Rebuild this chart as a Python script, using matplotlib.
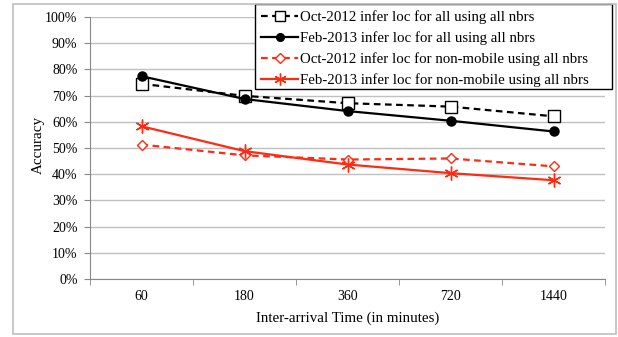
import matplotlib
matplotlib.use("Agg")
import matplotlib.pyplot as plt
from matplotlib.patches import Rectangle

# data
categories = ["60", "180", "360", "720", "1440"]
oct_all = [74.5, 69.9, 67.1, 65.8, 62.1]
feb_all = [77.4, 68.7, 64.1, 60.4, 56.3]
oct_nonmob = [51.3, 47.2, 45.6, 46.0, 43.0]
feb_nonmob = [58.3, 48.8, 43.7, 40.4, 37.7]

W, H = 618, 337
red = "#ff2a12"
plt.rcParams["font.family"] = ["Liberation Serif", "DejaVu Serif"]

fig = plt.figure(figsize=(W / 100, H / 100), dpi=100)
# outer chart frame
fig.patches.append(Rectangle((13 / W, 3 / H), 603 / W, 330 / H, transform=fig.transFigure,
                             fill=False, edgecolor="#bfbfbf", linewidth=1.2))

ax = fig.add_axes([90 / W, (H - 279) / H, 515 / W, 262 / H])
x = list(range(len(categories)))

ax.plot(x, oct_all, color="black", linestyle=(0, (3, 2)), linewidth=1.6, marker="s",
        markersize=8, markerfacecolor="white", markeredgecolor="black", markeredgewidth=1.0,
        label="Oct-2012 infer loc for all using all nbrs")
ax.plot(x, feb_all, color="black", linewidth=1.6, marker="o", markersize=6.5,
        label="Feb-2013 infer loc for all using all nbrs")
ax.plot(x, oct_nonmob, color=red, linestyle=(0, (3, 2)), linewidth=1.6, marker="D",
        markersize=5.5, markerfacecolor="white", markeredgecolor=red, markeredgewidth=1.0,
        label="Oct-2012 infer loc for non-mobile using all nbrs")
ax.plot(x, feb_nonmob, color=red, linewidth=1.6, marker=(6, 2, 0), markersize=10,
        markeredgewidth=1.0, label="Feb-2013 infer loc for non-mobile using all nbrs")

ax.set_xlim(-0.5, len(categories) - 0.5)
ax.set_ylim(0, 100)
ax.set_yticks(range(0, 101, 10))
ax.set_yticklabels([f"{v}%" for v in range(0, 101, 10)])
ax.set_xticks(x)
ax.set_xticklabels(categories)
ax.set_xticks([i - 0.5 for i in range(len(categories) + 1)], minor=True)
ax.tick_params(axis="x", which="major", length=0, pad=8, labelsize=10)
ax.tick_params(axis="x", which="minor", length=4, color="#888888")
ax.tick_params(axis="y", length=4, color="#888888", labelsize=10, pad=5)
ax.grid(axis="y", color="#c0c0c0", linewidth=1.0)
ax.set_axisbelow(True)
for s in ["top", "right"]:
    ax.spines[s].set_visible(False)
ax.spines["left"].set_color("#888888")
ax.spines["bottom"].set_color("#888888")

ax.set_xlabel("Inter-arrival Time (in minutes)", fontsize=10.8)
ax.xaxis.set_label_coords(0.5, -0.149)
ax.xaxis.label.set_va("center")
ax.set_ylabel("Accuracy", fontsize=10.8)
ax.yaxis.set_label_coords(-0.101, 0.511)
ax.yaxis.label.set_va("center")

# legend box drawn separately (Excel style, extra room on the right)
box = Rectangle((255 / W, (H - 89) / H), 357 / W, 85 / H, transform=fig.transFigure,
                facecolor="white", edgecolor="black", linewidth=1.0, zorder=4, clip_on=False)
ax.add_artist(box)
leg = ax.legend(loc="upper left", bbox_to_anchor=((255 - 90) / 515, (279 - 4) / 262),
                frameon=False, fontsize=10.7, handlelength=2.5,
                handletextpad=0.15, borderpad=0.4, labelspacing=0.5, borderaxespad=0,
                markerscale=0.85)
leg.set_zorder(6)

fig.savefig("out.png", dpi=100)
